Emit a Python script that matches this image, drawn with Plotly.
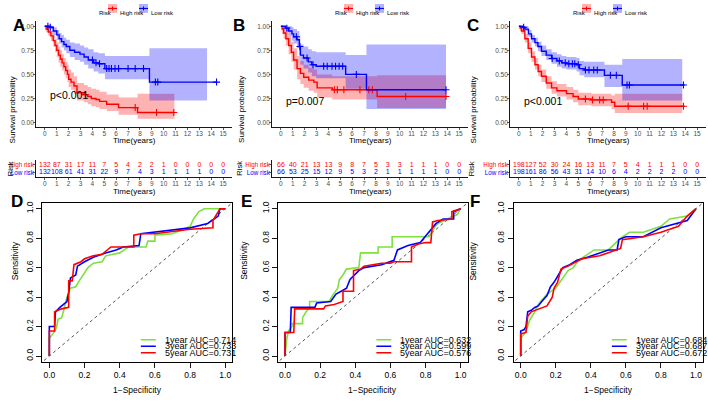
import plotly.graph_objects as go

W, H = 708, 403
FONT = "Liberation Sans, Arial, sans-serif"
RED, BLUE, GREEN = "#FF0000", "#0000FF", "#7FE040"
RED_F, BLUE_F = "rgba(255,0,0,0.3)", "rgba(0,0,255,0.3)"

def px(x): return x / W
def py(y): return 1 - y / H

# ---------------- data ----------------
years = list(range(16))

# Panel A (KM)
A_low_t  = [0, 0.4, 0.7, 1.0, 1.2, 1.4, 1.6, 1.8, 2.1, 2.5, 2.95, 3.3, 3.65, 4.1, 4.5, 5.05, 8.8]
A_low_s  = [1.0, 0.99, 0.95, 0.91, 0.87, 0.84, 0.81, 0.79, 0.75, 0.73, 0.71, 0.68, 0.65, 0.62, 0.61, 0.56, 0.42]
A_low_lo = [1.0, 0.97, 0.91, 0.86, 0.82, 0.78, 0.75, 0.72, 0.68, 0.65, 0.63, 0.60, 0.56, 0.53, 0.51, 0.45, 0.23]
A_low_hi = [1.0, 1.0, 0.99, 0.96, 0.93, 0.91, 0.88, 0.86, 0.83, 0.82, 0.80, 0.78, 0.76, 0.73, 0.72, 0.69, 0.77]
A_low_cens = [0.25, 0.45, 4.0, 4.3, 4.6, 5.2, 5.4, 5.6, 5.9, 6.2, 7.0, 7.6, 8.3, 9.3, 9.5, 14.45]
A_low_end, A_low_band_end = 14.45, 13.65

A_high_t  = [0, 0.1, 0.28, 0.5, 0.7, 0.85, 1.0, 1.15, 1.3, 1.45, 1.6, 1.75, 1.9, 2.0, 2.2, 2.45, 2.7, 3.3, 3.6, 3.9, 4.3, 4.6, 5.2, 6.2, 7.8]
A_high_s  = [1.0, 0.97, 0.94, 0.90, 0.85, 0.80, 0.75, 0.70, 0.66, 0.62, 0.58, 0.54, 0.50, 0.45, 0.42, 0.38, 0.31, 0.29, 0.27, 0.25, 0.24, 0.22, 0.19, 0.155, 0.105]
A_high_lo = [1.0, 0.94, 0.90, 0.85, 0.79, 0.73, 0.68, 0.62, 0.58, 0.54, 0.50, 0.46, 0.42, 0.37, 0.34, 0.30, 0.23, 0.21, 0.19, 0.17, 0.16, 0.14, 0.12, 0.08, 0.04]
A_high_hi = [1.0, 1.0, 0.98, 0.95, 0.91, 0.87, 0.83, 0.79, 0.75, 0.71, 0.67, 0.63, 0.60, 0.55, 0.52, 0.48, 0.41, 0.39, 0.37, 0.35, 0.34, 0.32, 0.29, 0.26, 0.30]
A_high_cens = [3.4, 7.6, 9.4, 10.85]
A_high_end, A_high_band_end = 10.9, 10.9

# Panel B (KM)
B_low_t  = [0, 0.4, 0.65, 0.93, 1.07, 1.36, 1.55, 1.64, 1.9, 2.3, 2.6, 2.97, 5.45, 7.2]
B_low_s  = [1.0, 0.98, 0.95, 0.92, 0.89, 0.86, 0.79, 0.70, 0.67, 0.63, 0.60, 0.585, 0.50, 0.34]
B_low_lo = [1.0, 0.95, 0.90, 0.85, 0.82, 0.77, 0.70, 0.60, 0.56, 0.52, 0.48, 0.46, 0.35, 0.14]
B_low_hi = [1.0, 1.0, 1.0, 0.99, 0.97, 0.95, 0.90, 0.81, 0.79, 0.76, 0.74, 0.73, 0.70, 0.81]
B_low_cens = [0.5, 1.3, 1.6, 2.2, 2.7, 3.6, 3.9, 4.3, 4.6, 4.9, 5.2, 6.35, 13.9]
B_low_end, B_low_band_end = 13.9, 13.9

B_high_t  = [0, 0.1, 0.23, 0.42, 0.65, 0.88, 1.07, 1.36, 1.64, 1.92, 2.34, 2.77, 3.05, 4.32, 8.1]
B_high_s  = [1.0, 0.97, 0.93, 0.87, 0.80, 0.73, 0.65, 0.56, 0.51, 0.47, 0.44, 0.42, 0.36, 0.34, 0.27]
B_high_lo = [1.0, 0.92, 0.87, 0.80, 0.71, 0.63, 0.55, 0.45, 0.40, 0.36, 0.33, 0.31, 0.26, 0.24, 0.15]
B_high_hi = [1.0, 1.0, 1.0, 0.96, 0.90, 0.84, 0.77, 0.69, 0.64, 0.60, 0.57, 0.55, 0.50, 0.48, 0.49]
B_high_cens = [4.5, 4.75, 5.3, 6.65, 7.4, 7.7, 10.5, 13.9]
B_high_end, B_high_band_end = 13.9, 13.9

# Panel C (KM)
C_low_t  = [0, 0.3, 0.5, 0.8, 1.06, 1.35, 1.6, 1.9, 2.3, 2.75, 3.2, 3.6, 4.0, 4.85, 5.1, 5.5, 7.2, 8.7]
C_low_s  = [1.0, 0.99, 0.97, 0.92, 0.87, 0.83, 0.79, 0.74, 0.70, 0.665, 0.64, 0.62, 0.61, 0.60, 0.56, 0.545, 0.49, 0.39]
C_low_lo = [1.0, 0.97, 0.95, 0.89, 0.83, 0.79, 0.74, 0.69, 0.65, 0.61, 0.58, 0.56, 0.55, 0.53, 0.49, 0.47, 0.37, 0.23]
C_low_hi = [1.0, 1.0, 1.0, 0.96, 0.91, 0.88, 0.84, 0.80, 0.76, 0.73, 0.71, 0.69, 0.68, 0.67, 0.64, 0.63, 0.60, 0.66]
C_low_cens = [0.4, 2.8, 3.4, 3.9, 4.2, 4.5, 4.7, 5.0, 5.6, 5.9, 6.3, 6.6, 7.7, 8.2, 9.1, 9.3, 13.85]
C_low_end, C_low_band_end = 13.95, 13.75

C_high_t  = [0, 0.1, 0.22, 0.5, 0.78, 1.06, 1.35, 1.62, 1.9, 2.3, 2.75, 3.2, 4.0, 4.56, 5.0, 6.1, 7.8, 8.07]
C_high_s  = [1.0, 0.98, 0.95, 0.87, 0.77, 0.68, 0.60, 0.53, 0.48, 0.41, 0.36, 0.33, 0.30, 0.27, 0.245, 0.235, 0.21, 0.17]
C_high_lo = [1.0, 0.95, 0.92, 0.83, 0.72, 0.63, 0.55, 0.48, 0.42, 0.35, 0.30, 0.27, 0.24, 0.21, 0.18, 0.17, 0.14, 0.10]
C_high_hi = [1.0, 1.0, 0.98, 0.92, 0.83, 0.74, 0.67, 0.60, 0.55, 0.48, 0.43, 0.40, 0.37, 0.34, 0.31, 0.30, 0.28, 0.30]
C_high_cens = [5.6, 6.2, 6.8, 7.1, 9.2, 10.5, 10.8, 13.85]
C_high_end, C_high_band_end = 13.95, 13.75

p_values = ["p<0.001", "p=0.007", "p<0.001"]

# risk tables
A_high_risk = [132, 87, 31, 17, 11, 7, 5, 4, 2, 2, 1, 0, 0, 0, 0, 0]
A_low_risk  = [132, 108, 61, 41, 31, 22, 9, 7, 4, 3, 1, 1, 1, 1, 0, 0]
B_high_risk = [66, 40, 21, 13, 13, 9, 8, 7, 5, 3, 3, 1, 1, 1, 0, 0]
B_low_risk  = [66, 53, 25, 15, 12, 9, 5, 3, 2, 1, 1, 1, 1, 1, 0, 0]
C_high_risk = [198, 127, 52, 30, 24, 16, 13, 11, 7, 5, 4, 1, 1, 1, 0, 0]
C_low_risk  = [198, 161, 86, 56, 43, 31, 14, 10, 6, 4, 2, 2, 2, 2, 0, 0]

# ROC curves (FPR, TPR)
D_1y_fpr = [0, 0, 0.02, 0.04, 0.05, 0.07, 0.08, 0.10, 0.12, 0.15, 0.17, 0.20, 0.22, 0.25, 0.30, 0.32, 0.40, 0.45, 0.55, 0.56, 0.60, 0.60, 0.70, 0.80, 0.82, 0.85, 0.88, 1.0]
D_1y_tpr = [0, 0.12, 0.15, 0.19, 0.25, 0.26, 0.30, 0.40, 0.46, 0.47, 0.51, 0.56, 0.60, 0.63, 0.64, 0.68, 0.70, 0.74, 0.74, 0.78, 0.78, 0.82, 0.83, 0.88, 0.93, 0.98, 1.0, 1.0]
D_3y_fpr = [0, 0, 0.03, 0.035, 0.06, 0.08, 0.10, 0.11, 0.12, 0.15, 0.16, 0.20, 0.25, 0.32, 0.38, 0.42, 0.51, 0.52, 0.60, 0.80, 0.90, 0.96, 0.97, 1.0]
D_3y_tpr = [0, 0.20, 0.20, 0.30, 0.33, 0.35, 0.37, 0.43, 0.53, 0.55, 0.61, 0.64, 0.67, 0.70, 0.72, 0.74, 0.75, 0.83, 0.84, 0.87, 0.90, 0.95, 1.0, 1.0]
D_5y_fpr = [0, 0, 0.03, 0.03, 0.07, 0.10, 0.11, 0.11, 0.13, 0.14, 0.18, 0.20, 0.25, 0.30, 0.35, 0.48, 0.48, 0.52, 0.60, 0.80, 0.93, 0.93, 0.97, 1.0]
D_5y_tpr = [0, 0.17, 0.17, 0.30, 0.32, 0.33, 0.33, 0.51, 0.51, 0.62, 0.64, 0.66, 0.68, 0.69, 0.74, 0.74, 0.82, 0.83, 0.83, 0.86, 0.87, 0.92, 1.0, 1.0]
D_auc = ["0.714", "0.733", "0.731"]

E_1y_fpr = [0, 0.01, 0.02, 0.04, 0.04, 0.10, 0.10, 0.12, 0.14, 0.14, 0.25, 0.27, 0.30, 0.31, 0.33, 0.35, 0.42, 0.43, 0.53, 0.53, 0.61, 0.61, 0.82, 0.85, 0.87, 0.93, 0.98, 1.0]
E_1y_tpr = [0, 0.12, 0.17, 0.20, 0.22, 0.22, 0.26, 0.30, 0.33, 0.37, 0.37, 0.41, 0.46, 0.52, 0.55, 0.59, 0.60, 0.70, 0.70, 0.74, 0.74, 0.81, 0.81, 0.87, 0.90, 0.93, 0.96, 1.0]
E_3y_fpr = [0, 0, 0.03, 0.035, 0.17, 0.18, 0.26, 0.29, 0.32, 0.35, 0.37, 0.40, 0.42, 0.45, 0.55, 0.62, 0.64, 0.70, 0.77, 0.79, 0.83, 0.86, 0.90, 0.96, 0.96, 1.0]
E_3y_tpr = [0, 0.16, 0.16, 0.33, 0.33, 0.36, 0.37, 0.42, 0.44, 0.46, 0.52, 0.56, 0.58, 0.60, 0.62, 0.65, 0.72, 0.75, 0.77, 0.80, 0.86, 0.90, 0.93, 0.93, 0.98, 1.0]
E_5y_fpr = [0, 0, 0.05, 0.055, 0.22, 0.23, 0.28, 0.33, 0.33, 0.39, 0.39, 0.43, 0.45, 0.55, 0.60, 0.62, 0.72, 0.72, 0.76, 0.80, 0.83, 0.84, 0.87, 0.95, 0.95, 1.0]
E_5y_tpr = [0, 0.16, 0.16, 0.32, 0.32, 0.34, 0.35, 0.37, 0.44, 0.44, 0.58, 0.59, 0.61, 0.63, 0.63, 0.64, 0.64, 0.74, 0.76, 0.77, 0.77, 0.91, 0.92, 0.93, 0.98, 1.0]
E_auc = ["0.632", "0.599", "0.576"]

F_1y_fpr = [0, 0, 0.02, 0.04, 0.05, 0.08, 0.10, 0.15, 0.20, 0.25, 0.27, 0.30, 0.33, 0.42, 0.50, 0.57, 0.62, 0.70, 0.80, 0.85, 0.95, 1.0]
F_1y_tpr = [0, 0.12, 0.15, 0.20, 0.24, 0.30, 0.35, 0.42, 0.46, 0.55, 0.58, 0.60, 0.65, 0.72, 0.72, 0.80, 0.84, 0.84, 0.88, 0.93, 0.95, 1.0]
F_3y_fpr = [0, 0, 0.02, 0.03, 0.04, 0.06, 0.08, 0.10, 0.12, 0.15, 0.17, 0.19, 0.22, 0.24, 0.28, 0.32, 0.38, 0.45, 0.50, 0.55, 0.56, 0.60, 0.70, 0.80, 0.90, 0.95, 1.0]
F_3y_tpr = [0, 0.17, 0.18, 0.20, 0.30, 0.31, 0.33, 0.34, 0.37, 0.41, 0.47, 0.50, 0.56, 0.60, 0.62, 0.65, 0.67, 0.70, 0.72, 0.72, 0.79, 0.81, 0.81, 0.87, 0.90, 0.92, 1.0]
F_5y_fpr = [0, 0, 0.03, 0.04, 0.06, 0.10, 0.15, 0.18, 0.19, 0.21, 0.23, 0.27, 0.30, 0.35, 0.45, 0.57, 0.58, 0.70, 0.80, 0.90, 0.95, 1.0]
F_5y_tpr = [0, 0.15, 0.16, 0.27, 0.30, 0.32, 0.34, 0.40, 0.46, 0.50, 0.59, 0.61, 0.63, 0.66, 0.68, 0.73, 0.79, 0.81, 0.84, 0.88, 0.95, 1.0]
F_auc = ["0.684", "0.687", "0.672"]

roc_labels = ["1year", "3year", "5year"]
roc_colors = [GREEN, BLUE, RED]

# ---------------- layout geometry (pixels) ----------------
KM_X = [(36, 232), (272, 468), (510, 706)]
KM_Y = (19.5, 126)
TAB_Y = (159, 176)
ROC_X = [(42.3, 232.3), (278, 467.7), (513.7, 703)]
ROC_Y = (201.8, 361.7)

fig = go.Figure()
layout = dict(width=W, height=H, margin=dict(l=0, r=0, t=0, b=0, pad=0), autosize=False,
              paper_bgcolor="white", plot_bgcolor="white", showlegend=False,
              font=dict(family=FONT, color="black"))
annotations, shapes = [], []

def ax_name(i, kind):
    return f"{kind}axis" if i == 1 else f"{kind}axis{i}"

def ref(i, kind):
    return kind if i == 1 else f"{kind}{i}"

def step_at(ts, ss, t):
    v = ss[0]
    for a, b in zip(ts, ss):
        if a <= t:
            v = b
    return v

def add_km(i, t, s, lo, hi, cens, end, band_end, color, fill):
    xr, yr = ref(i, "x"), ref(i, "y")
    return dict(
        band=[go.Scatter(x=t + [band_end], y=lo + [lo[-1]], mode="lines", line=dict(width=0, shape="hv"),
                         xaxis=xr, yaxis=yr, hoverinfo="skip"),
              go.Scatter(x=t + [band_end], y=hi + [hi[-1]], mode="lines", line=dict(width=0, shape="hv"),
                         fill="tonexty", fillcolor=fill, xaxis=xr, yaxis=yr, hoverinfo="skip")],
        line=[go.Scatter(x=t + [end], y=s + [s[-1]], mode="lines", line=dict(color=color, width=1.4, shape="hv"),
                         xaxis=xr, yaxis=yr),
              go.Scatter(x=cens, y=[step_at(t, s, c) for c in cens], mode="markers",
                         marker=dict(symbol="cross-thin", size=5, line=dict(color=color, width=1.1)),
                         xaxis=xr, yaxis=yr)])

km_sets = [
    (A_high_t, A_high_s, A_high_lo, A_high_hi, A_high_cens, A_high_end, A_high_band_end,
     A_low_t, A_low_s, A_low_lo, A_low_hi, A_low_cens, A_low_end, A_low_band_end),
    (B_high_t, B_high_s, B_high_lo, B_high_hi, B_high_cens, B_high_end, B_high_band_end,
     B_low_t, B_low_s, B_low_lo, B_low_hi, B_low_cens, B_low_end, B_low_band_end),
    (C_high_t, C_high_s, C_high_lo, C_high_hi, C_high_cens, C_high_end, C_high_band_end,
     C_low_t, C_low_s, C_low_lo, C_low_hi, C_low_cens, C_low_end, C_low_band_end),
]
pval_pos = [(0.25, 0.285), (0.23, 0.225), (0.28, 0.225)]
letters_top = ["A", "B", "C"]
letter_top_x = [11, 239, 481]

gg_axis = dict(ticks="outside", ticklen=2, tickwidth=0.8, tickcolor="#333", showline=True,
               linecolor="black", linewidth=0.9, showgrid=False, zeroline=False,
               ticklabelstandoff=-2)

for k in range(3):
    i = k + 1
    d = km_sets[k]
    hi_ = add_km(i, *d[0:7], RED, RED_F)
    lo_ = add_km(i, *d[7:14], BLUE, BLUE_F)
    for tr in hi_["band"] + lo_["band"] + hi_["line"] + lo_["line"]:
        fig.add_trace(tr)
    x0, x1 = KM_X[k]
    layout[ax_name(i, "x")] = dict(domain=[px(x0), px(x1)], range=[-0.75, 15.75], tickvals=years,
                                   tickfont=dict(size=6.5, color="#4d4d4d"),
                                   anchor=ref(i, "y"), **gg_axis)
    layout[ax_name(i, "y")] = dict(domain=[py(KM_Y[1]), py(KM_Y[0])], range=[-0.05, 1.05],
                                   tickvals=[0, 0.25, 0.5, 0.75, 1.0],
                                   ticktext=["0.00", "0.25", "0.50", "0.75", "1.00"],
                                   tickfont=dict(size=6.5, color="#4d4d4d"),
                                   anchor=ref(i, "x"), **gg_axis)
    annotations.append(dict(x=pval_pos[k][0], y=pval_pos[k][1], xref=ref(i, "x"), yref=ref(i, "y"),
                            text=p_values[k], showarrow=False, xanchor="left", yanchor="middle",
                            font=dict(size=10.5, color="black")))
    annotations.append(dict(x=px(x0 - 30), y=py((KM_Y[0] + KM_Y[1]) / 2), xref="paper", yref="paper",
                            text="Survival probability", textangle=-90, showarrow=False,
                            font=dict(size=8)))
    annotations.append(dict(x=7.5, y=py(139), xref=ref(i, "x"), yref="paper", text="Time(years)",
                            showarrow=False, font=dict(size=8)))
    base = x0
    annotations.append(dict(x=px(base + 61), y=py(6.5), xref="paper", yref="paper", text="Risk",
                            showarrow=False, xanchor="left", font=dict(size=6)))
    for (kx, tx, lab, col, fc) in [(72, 82, "High risk", RED, RED_F), (103, 113, "Low risk", BLUE, BLUE_F)]:
        shapes.append(dict(type="rect", xref="paper", yref="paper", x0=px(base + kx), x1=px(base + kx + 9),
                           y0=py(11), y1=py(2), fillcolor=fc, line=dict(width=0)))
        shapes.append(dict(type="line", xref="paper", yref="paper", x0=px(base + kx), x1=px(base + kx + 9),
                           y0=py(6.5), y1=py(6.5), line=dict(color=col, width=1.2)))
        shapes.append(dict(type="line", xref="paper", yref="paper", x0=px(base + kx + 4.5), x1=px(base + kx + 4.5),
                           y0=py(4.5), y1=py(8.5), line=dict(color=col, width=1)))
        annotations.append(dict(x=px(base + tx), y=py(6.5), xref="paper", yref="paper", text=lab,
                                showarrow=False, xanchor="left", font=dict(size=6)))
    annotations.append(dict(x=px(letter_top_x[k]), y=py(12), xref="paper", yref="paper",
                            text="<b>" + letters_top[k] + "</b>", showarrow=False,
                            font=dict(size=17, color="black")))

# risk tables
risk_sets = [(A_high_risk, A_low_risk), (B_high_risk, B_low_risk), (C_high_risk, C_low_risk)]
for k in range(3):
    i = k + 4
    hr, lr = risk_sets[k]
    fig.add_trace(go.Scatter(x=years, y=[2] * 16, mode="text", text=[str(v) for v in hr],
                             textfont=dict(size=7, color=RED), xaxis=ref(i, "x"), yaxis=ref(i, "y"),
                             cliponaxis=False))
    fig.add_trace(go.Scatter(x=years, y=[1] * 16, mode="text", text=[str(v) for v in lr],
                             textfont=dict(size=7, color=BLUE), xaxis=ref(i, "x"), yaxis=ref(i, "y"),
                             cliponaxis=False))
    x0, x1 = KM_X[k]
    layout[ax_name(i, "x")] = dict(domain=[px(x0), px(x1)], range=[-0.75, 15.75], tickvals=years,
                                   tickfont=dict(size=6.5, color="#4d4d4d"),
                                   anchor=ref(i, "y"), **gg_axis)
    layout[ax_name(i, "y")] = dict(domain=[py(TAB_Y[1]), py(TAB_Y[0])], range=[0.4, 2.6],
                                   tickvals=[1, 2],
                                   ticktext=['<span style="color:blue">Low risk</span>',
                                             '<span style="color:red">High risk</span>'],
                                   tickfont=dict(size=6.3),
                                   anchor=ref(i, "x"), **gg_axis)
    annotations.append(dict(x=7.5, y=py(190.5), xref=ref(i, "x"), yref="paper", text="Time(years)",
                            showarrow=False, font=dict(size=8)))
    annotations.append(dict(x=px(x0 - 32), y=py(167.5), xref="paper", yref="paper", text="Risk",
                            textangle=-90, showarrow=False, font=dict(size=7.5)))

# ROC panels
roc_sets = [
    [(D_1y_fpr, D_1y_tpr), (D_3y_fpr, D_3y_tpr), (D_5y_fpr, D_5y_tpr)],
    [(E_1y_fpr, E_1y_tpr), (E_3y_fpr, E_3y_tpr), (E_5y_fpr, E_5y_tpr)],
    [(F_1y_fpr, F_1y_tpr), (F_3y_fpr, F_3y_tpr), (F_5y_fpr, F_5y_tpr)],
]
roc_aucs = [D_auc, E_auc, F_auc]
letters_bot = ["D", "E", "F"]
letter_bot_x = [9, 246, 482]
ticks01 = [0, 0.2, 0.4, 0.6, 0.8, 1.0]
ticks01_txt = ["0.0", "0.2", "0.4", "0.6", "0.8", "1.0"]
for k in range(3):
    i = k + 7
    xr, yr = ref(i, "x"), ref(i, "y")
    for j, (f, tp) in enumerate(roc_sets[k]):
        fig.add_trace(go.Scatter(x=f, y=tp, mode="lines", line=dict(color=roc_colors[j], width=1.6),
                                 xaxis=xr, yaxis=yr))
    x0, x1 = ROC_X[k]
    common = dict(range=[-0.04, 1.04], tickvals=ticks01, ticktext=ticks01_txt, ticks="outside",
                  ticklen=5, tickwidth=0.9, tickcolor="black", showline=True, mirror=True,
                  linecolor="black", linewidth=1, showgrid=False, zeroline=False,
                  tickfont=dict(size=8.5, color="black"))
    layout[ax_name(i, "x")] = dict(domain=[px(x0), px(x1)], anchor=yr, **common)
    layout[ax_name(i, "y")] = dict(domain=[py(ROC_Y[1]), py(ROC_Y[0])], anchor=xr, tickangle=-90, **common)
    shapes.append(dict(type="line", xref=xr, yref=yr, x0=-0.03, y0=-0.03, x1=1.04, y1=1.04,
                       line=dict(color="#555555", width=1, dash="dot"), layer="below"))
    for j in range(3):
        yy = [0.11, 0.066, 0.022][j]
        shapes.append(dict(type="line", xref=xr, yref=yr, x0=0.52, x1=0.605, y0=yy, y1=yy,
                           line=dict(color=roc_colors[j], width=1.6)))
        annotations.append(dict(x=0.645, y=yy, xref=xr, yref=yr,
                                text=f"{roc_labels[j]} AUC={roc_aucs[k][j]}", showarrow=False,
                                xanchor="left", yanchor="middle", font=dict(size=9)))
    annotations.append(dict(x=px(x0 - 34), y=py((ROC_Y[0] + ROC_Y[1]) / 2), xref="paper", yref="paper",
                            text="Sensitivity", textangle=-90, showarrow=False, font=dict(size=8.5)))
    annotations.append(dict(x=0.5, y=py(396.5), xref=xr, yref="paper", text="1\u2212Specificity",
                            showarrow=False, font=dict(size=8.5)))
    annotations.append(dict(x=px(letter_bot_x[k]), y=py(200), xref="paper", yref="paper",
                            text="<b>" + letters_bot[k] + "</b>", showarrow=False,
                            font=dict(size=17, color="black")))

layout["annotations"] = annotations
layout["shapes"] = shapes
fig.update_layout(**layout)
fig.write_html("out.html", config={"displayModeBar": False, "staticPlot": True},
               post_script="document.body.style.margin='0';document.body.style.padding='0';")
